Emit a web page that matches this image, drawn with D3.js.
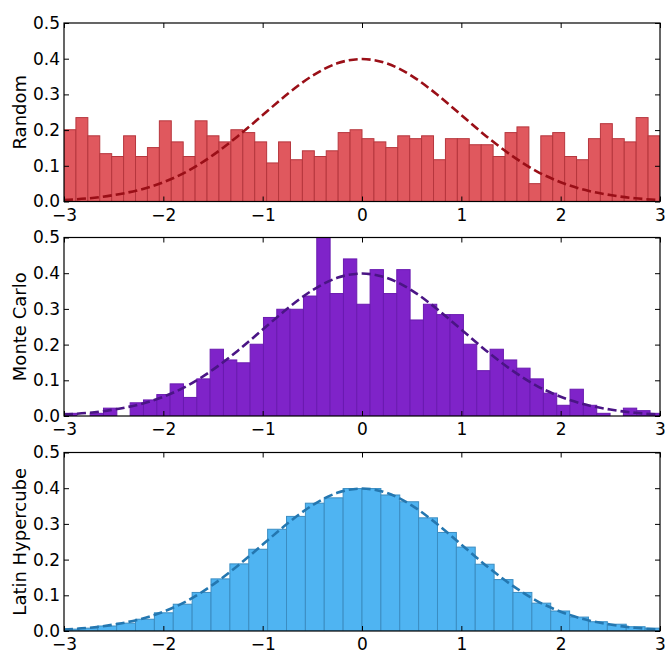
<!DOCTYPE html>
<html>
<head>
<meta charset="utf-8">
<script src="https://cdn.jsdelivr.net/npm/d3@7"></script>
<style>
  html, body { margin: 0; padding: 0; background: #fff; }
  svg { display: block; }
  text { font-family: "DejaVu Sans", sans-serif; fill: #000; }
</style>
</head>
<body>
<svg id="chart" width="665" height="650"></svg>
<script>
// ---- Data ----
const xTicks = [-3, -2, -1, 0, 1, 2, 3];
const yTicks = [0, 0.1, 0.2, 0.3, 0.4, 0.5];

const panelNames = ["Random", "Monte Carlo", "Latin Hypercube"];

// Random: 50 bins from -3, width 0.12
const randomStart = -3, randomWidth = 0.12;
const randomHeights = [
  0.201, 0.235, 0.184, 0.134, 0.126, 0.184, 0.126, 0.151, 0.226, 0.167,
  0.126, 0.226, 0.184, 0.167, 0.201, 0.193, 0.167, 0.108, 0.167, 0.117,
  0.142, 0.126, 0.142, 0.193, 0.201, 0.176, 0.167, 0.151, 0.184, 0.176,
  0.184, 0.117, 0.176, 0.176, 0.159, 0.159, 0.126, 0.193, 0.209, 0.050,
  0.184, 0.193, 0.126, 0.117, 0.176, 0.218, 0.176, 0.167, 0.235, 0.184
];

// Monte Carlo: 45 bins from -3.005, width 0.1342
const monteStart = -3.005, monteWidth = 0.1342;
const monteHeights = [
  0.0075, 0.000, 0.0075, 0.022, 0.000, 0.037, 0.045, 0.060, 0.090, 0.052,
  0.104, 0.187, 0.157, 0.149, 0.201, 0.276, 0.299, 0.299, 0.336, 0.522,
  0.343, 0.440, 0.313, 0.410, 0.343, 0.410, 0.269, 0.313, 0.284, 0.284,
  0.201, 0.127, 0.187, 0.157, 0.134, 0.104, 0.064, 0.030, 0.075, 0.030,
  0.0075, 0.000, 0.022, 0.015, 0.0075
];

// Latin Hypercube: 32 bins from -3.04, width 0.19
const latinStart = -3.04, latinWidth = 0.19;
const latinHeights = [
  0.0053, 0.008, 0.014, 0.022, 0.033, 0.051, 0.075, 0.108, 0.146, 0.188,
  0.229, 0.285, 0.321, 0.358, 0.373, 0.399, 0.399, 0.381, 0.362, 0.317,
  0.276, 0.235, 0.187, 0.144, 0.108, 0.078, 0.056, 0.039, 0.026, 0.019,
  0.012, 0.008
];

// Reference density curve
const curveX = [-3, -2.75, -2.5, -2.25, -2, -1.75, -1.5, -1.25, -1, -0.75, -0.5, -0.25,
                0, 0.25, 0.5, 0.75, 1, 1.25, 1.5, 1.75, 2, 2.25, 2.5, 2.75, 3];
const curveY = [0.0044, 0.009, 0.018, 0.032, 0.054, 0.086, 0.130, 0.183, 0.242, 0.301, 0.352, 0.387,
                0.399, 0.387, 0.352, 0.301, 0.242, 0.183, 0.130, 0.086, 0.054, 0.032, 0.018, 0.009, 0.0044];

// ---- Layout / style ----
const panels = [
  { name: panelNames[0], start: randomStart, width: randomWidth, heights: randomHeights,
    top: 23, fill: "#e0585e", edge: "#b6363d", line: "#9a0f17" },
  { name: panelNames[1], start: monteStart, width: monteWidth, heights: monteHeights,
    top: 237.5, fill: "#7f23c9", edge: "#6a1ab0", line: "#4a1585" },
  { name: panelNames[2], start: latinStart, width: latinWidth, heights: latinHeights,
    top: 452.5, fill: "#4fb4f2", edge: "#3b8dc2", line: "#2477b0" }
];
const left = 64, right = 660, ph = 178.5;

const svg = d3.select("#chart");
const x = d3.scaleLinear().domain([-3, 3]).range([left, right]);

panels.forEach((p, i) => {
  const y = d3.scaleLinear().domain([0, 0.5]).range([p.top + ph, p.top]);
  const g = svg.append("g");
  const clipId = "clip" + i;
  svg.append("clipPath").attr("id", clipId)
    .append("rect").attr("x", left).attr("y", p.top).attr("width", right - left).attr("height", ph);

  const bins = p.heights.map((h, k) => ({ x0: p.start + k * p.width, x1: p.start + (k + 1) * p.width, h }));
  const plot = g.append("g").attr("clip-path", `url(#${clipId})`);
  plot.selectAll("rect.bar").data(bins).enter().append("rect")
    .attr("class", "bar")
    .attr("x", d => x(d.x0))
    .attr("width", d => x(d.x1) - x(d.x0))
    .attr("y", d => y(d.h))
    .attr("height", d => y(0) - y(d.h))
    .attr("fill", p.fill)
    .attr("stroke", p.edge)
    .attr("stroke-width", 1);

  const line = d3.line().x(d => x(d[0])).y(d => y(d[1])).curve(d3.curveMonotoneX);
  plot.append("path")
    .datum(curveX.map((v, k) => [v, curveY[k]]))
    .attr("d", line)
    .attr("fill", "none")
    .attr("stroke", p.line)
    .attr("stroke-width", 2.6)
    .attr("stroke-dasharray", "9,4");

  // axes with inward ticks
  const fmtY = d3.format(".1f");
  const fmtX = d3.format("d");
  const ax = g.append("g").attr("transform", `translate(0,${p.top + ph})`)
    .call(d3.axisBottom(x).tickValues(xTicks).tickFormat(fmtX).tickSize(-5).tickPadding(7));
  const ay = g.append("g").attr("transform", `translate(${left},0)`)
    .call(d3.axisLeft(y).tickValues(yTicks).tickFormat(fmtY).tickSize(-5).tickPadding(4));
  const at = g.append("g").attr("transform", `translate(0,${p.top})`)
    .call(d3.axisTop(x).tickValues(xTicks).tickSize(-5).tickFormat(""));
  const ar = g.append("g").attr("transform", `translate(${right},0)`)
    .call(d3.axisRight(y).tickValues(yTicks).tickSize(-5).tickFormat(""));
  [ax, ay, at, ar].forEach(a => {
    a.select(".domain").remove();
    a.selectAll("line").attr("stroke", "#000").attr("stroke-width", 1);
    a.selectAll("text").style("font-family", "DejaVu Sans, sans-serif").style("font-size", "17px").attr("fill", "#000");
  });

  g.append("rect")
    .attr("x", left).attr("y", p.top).attr("width", right - left).attr("height", ph)
    .attr("fill", "none").attr("stroke", "#000").attr("stroke-width", 1.2);

  g.append("text")
    .attr("transform", `translate(26,${p.top + ph / 2}) rotate(-90)`)
    .attr("text-anchor", "middle")
    .style("font-size", "18px")
    .text(p.name);
});
</script>
</body>
</html>
